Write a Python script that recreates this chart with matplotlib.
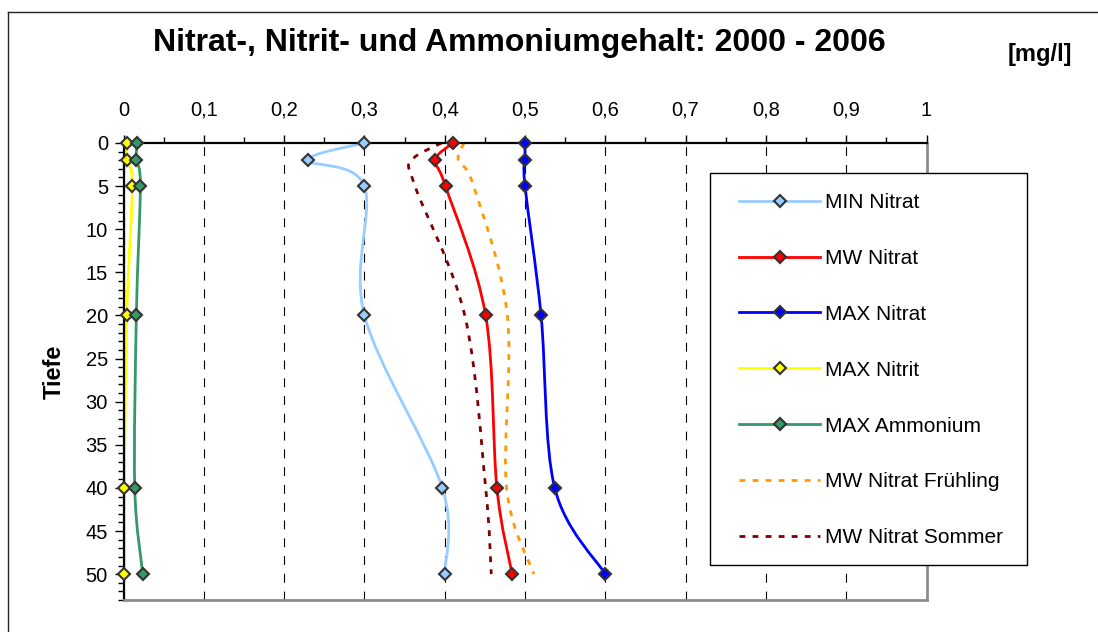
import numpy as np
import matplotlib
matplotlib.use('Agg')
import matplotlib.pyplot as plt
from matplotlib.path import Path
from matplotlib.patches import PathPatch, Rectangle
from matplotlib.lines import Line2D
from matplotlib.ticker import MultipleLocator, FixedLocator, FixedFormatter

plt.rcParams['font.family'] = ['Liberation Sans', 'DejaVu Sans']

# ---------------- data ----------------
depth = [0, 2, 5, 20, 40, 50]
min_nitrat = [0.300, 0.230, 0.300, 0.300, 0.397, 0.400]
mw_nitrat = [0.410, 0.388, 0.401, 0.451, 0.465, 0.484]
max_nitrat = [0.500, 0.500, 0.500, 0.520, 0.537, 0.600]
max_nitrit = [0.004, 0.004, 0.011, 0.004, 0.001, 0.001]
max_ammonium = [0.017, 0.016, 0.021, 0.016, 0.014, 0.024]
mw_nitrat_fruehling = [0.424, 0.417, 0.436, 0.478, 0.477, 0.511]
mw_nitrat_sommer = [0.396, 0.359, 0.363, 0.425, 0.451, 0.458]

series_names = ['MIN Nitrat', 'MW Nitrat', 'MAX Nitrat', 'MAX Nitrit',
                'MAX Ammonium', 'MW Nitrat Frühling', 'MW Nitrat Sommer']

xtick_values = [0, 0.1, 0.2, 0.3, 0.4, 0.5, 0.6, 0.7, 0.8, 0.9, 1]
xtick_labels = ['0', '0,1', '0,2', '0,3', '0,4', '0,5', '0,6', '0,7', '0,8', '0,9', '1']
ytick_values = [0, 5, 10, 15, 20, 25, 30, 35, 40, 45, 50]
ytick_labels = [str(v) for v in ytick_values]

title = 'Nitrat-, Nitrit- und Ammoniumgehalt: 2000 - 2006'
unit_label = '[mg/l]'
y_label = 'Tiefe'

# ---------------- figure ----------------
W, H = 1098, 632
fig = plt.figure(figsize=(W / 100, H / 100), dpi=100)


def fx(px):
    return px / W


def fy(py):
    return 1 - py / H


# outer chart border (left and top visible)
fig.add_artist(Line2D([fx(8), fx(8)], [fy(12), 0], transform=fig.transFigure,
                      color='#222222', lw=1.0))
fig.add_artist(Line2D([fx(8), 1], [fy(12), fy(12)], transform=fig.transFigure,
                      color='#222222', lw=1.0))

ax = fig.add_axes([fx(123.5), fy(600), fx(926.5) - fx(123.5), fy(143) - fy(600)])
ax.set_xlim(0, 1)
ax.set_ylim(53, 0)


def smooth_path(xs, ys):
    pts = np.column_stack([xs, ys]).astype(float)
    n = len(pts)
    verts = [pts[0]]
    codes = [Path.MOVETO]
    for i in range(n - 1):
        p0 = pts[i - 1] if i > 0 else pts[i]
        p1 = pts[i]
        p2 = pts[i + 1]
        p3 = pts[i + 2] if i + 2 < n else pts[i + 1]
        c1 = p1 + (p2 - p0) / 6.0
        c2 = p2 - (p3 - p1) / 6.0
        verts += [c1, c2, p2]
        codes += [Path.CURVE4] * 3
    return Path(verts, codes)


LW = 2.0
MS = 6.1
MEW = 1.5
MEC = '#333333'
dotted = (0, (2.1, 2.6))

marker_series = [
    (min_nitrat, '#99CCFF', '#99CCFF'),
    (mw_nitrat, '#FF0000', '#FF0000'),
    (max_nitrat, '#0000FF', '#0000FF'),
    (max_nitrit, '#FFFF00', '#FFFF00'),
    (max_ammonium, '#339966', '#339966'),
]
dotted_series = [
    (mw_nitrat_fruehling, '#FF9900'),
    (mw_nitrat_sommer, '#800000'),
]

handles = []
for vals, col, mfc in marker_series:
    ax.add_patch(PathPatch(smooth_path(vals, depth), fill=False, edgecolor=col,
                           lw=LW, zorder=3, capstyle='round', joinstyle='round'))
    handles.append(Line2D([], [], color=col, lw=LW, marker='D', ms=MS,
                          mfc=mfc, mec=MEC, mew=MEW))
for vals, col in dotted_series:
    ax.add_patch(PathPatch(smooth_path(vals, depth), fill=False, edgecolor=col,
                           lw=2.0, linestyle=dotted, zorder=3, capstyle='butt'))
    handles.append(Line2D([], [], color=col, lw=2.0, linestyle=dotted))

for vals, col, mfc in marker_series:
    ax.plot(vals, depth, linestyle='none', marker='D', ms=MS, mfc=mfc,
            mec=MEC, mew=MEW, zorder=5, clip_on=False)

# axes styling
ax.xaxis.tick_top()
ax.xaxis.set_major_locator(FixedLocator(xtick_values))
ax.xaxis.set_major_formatter(FixedFormatter(xtick_labels))
ax.xaxis.set_minor_locator(MultipleLocator(0.05))
ax.yaxis.set_major_locator(FixedLocator(ytick_values))
ax.yaxis.set_major_formatter(FixedFormatter(ytick_labels))
ax.yaxis.set_minor_locator(MultipleLocator(1))

ax.tick_params(axis='x', which='major', direction='out', length=5.6, width=1.0,
               labelsize=14.5, pad=11, top=True, bottom=False,
               labeltop=True, labelbottom=False)
ax.tick_params(axis='x', which='minor', direction='out', length=4.3, width=1.0,
               top=True, bottom=False)
ax.tick_params(axis='y', which='major', direction='out', length=6.2, width=1.0,
               labelsize=14.5, pad=5)
ax.tick_params(axis='y', which='minor', direction='out', length=4.3, width=1.0)

ax.xaxis.grid(True, which='major', color='black', lw=0.8, linestyle=(0, (8, 8)))
ax.set_axisbelow(True)

for side in ('top', 'left'):
    ax.spines[side].set_color('black')
    ax.spines[side].set_linewidth(1.6)
for side in ('right', 'bottom'):
    ax.spines[side].set_color('#8c8c8c')
    ax.spines[side].set_linewidth(2.0)
for sp in ax.spines.values():
    sp.set_zorder(4)

# titles
fig.text(fx(519), fy(51.5), title, ha='center', va='baseline',
         fontsize=23, fontweight='bold')
fig.text(fx(1040), fy(61), unit_label, ha='center', va='baseline',
         fontsize=17, fontweight='bold')
fig.text(fx(54), fy(372), y_label, ha='center', va='center', rotation=90,
         fontsize=17, fontweight='bold')

# legend frame and entries
fig.add_artist(Rectangle((fx(709.5), fy(565)), fx(1027) - fx(709.5), fy(172.5) - fy(565),
                         transform=fig.transFigure, fill=True, facecolor='white',
                         edgecolor='black', lw=1.0, zorder=6))
leg = fig.legend(handles, series_names, loc='upper left',
                 bbox_to_anchor=(fx(739), fy(193)), bbox_transform=fig.transFigure,
                 frameon=False, fontsize=15, borderpad=0, borderaxespad=0,
                 handlelength=3.9, handletextpad=0.25, labelspacing=1.77,
                 numpoints=1)
leg.set_zorder(7)

fig.savefig('out.png', dpi=100, facecolor='white')
